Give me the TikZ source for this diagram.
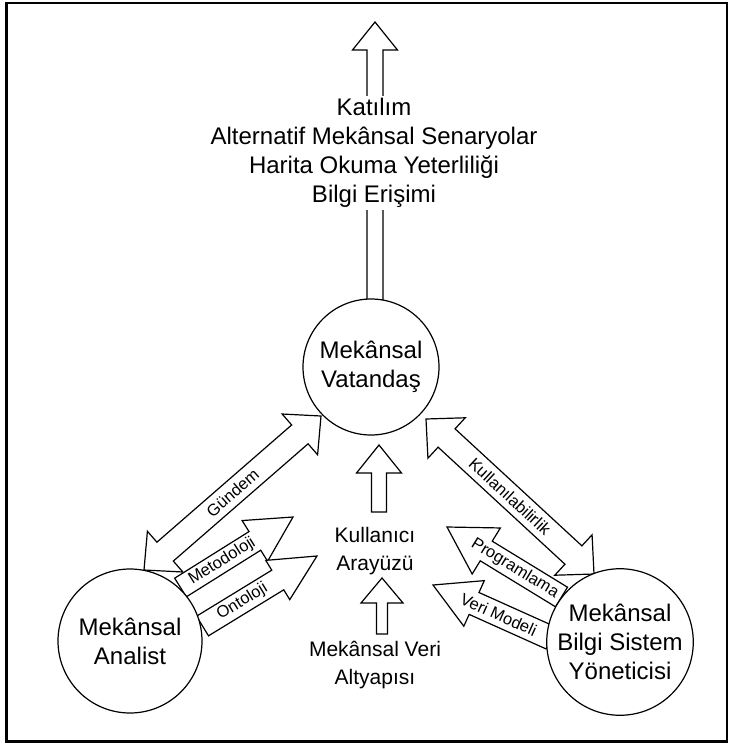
\documentclass[tikz,border=0pt]{standalone}
\usepackage{fontspec}
\setmainfont{Liberation Sans}
\usetikzlibrary{calc}

\tikzset{
  outline/.style={draw=black, line width=1.2pt, fill=white, line join=miter},
  bigtext/.style={font=\fontsize{24}{29}\selectfont, align=center, inner sep=0pt},
  midtext/.style={font=\fontsize{21}{28}\selectfont, align=center, inner sep=1pt},
  tag/.style={font=\fontsize{16.5}{18}\selectfont, inner sep=0pt},
  role/.style={circle, draw=black, line width=1.2pt, fill=white, inner sep=0pt,
               font=\fontsize{24}{29}\selectfont, align=center},
}

% single block arrow: tail, tip, shaft half width, head half width, head length
\newcommand{\blockarrow}[5]{%
  \coordinate (#1-base) at ($(#2)!#5!(#1)$);
  \draw[outline] ($(#1)!#3!90:(#2)$) -- ($(#1-base)!#3!90:(#2)$)
    -- ($(#1-base)!#4!90:(#2)$) -- (#2) -- ($(#1-base)!#4!-90:(#2)$)
    -- ($(#1-base)!#3!-90:(#2)$) -- ($(#1)!#3!-90:(#2)$) -- cycle;
}
% double block arrow: end A, end B, shaft half width, head half width, head length
\newcommand{\twinarrow}[5]{%
  \coordinate (#1-base) at ($(#1)!#5!(#2)$);
  \coordinate (#2-base) at ($(#2)!#5!(#1)$);
  \draw[outline] (#1) -- ($(#1-base)!#4!90:(#2)$) -- ($(#1-base)!#3!90:(#2)$)
    -- ($(#2-base)!#3!-90:(#1)$) -- ($(#2-base)!#4!-90:(#1)$) -- (#2)
    -- ($(#2-base)!#4!90:(#1)$) -- ($(#2-base)!#3!90:(#1)$)
    -- ($(#1-base)!#3!-90:(#2)$) -- ($(#1-base)!#4!-90:(#2)$) -- cycle;
}

\begin{document}
\begin{tikzpicture}[x=1pt, y=-1pt]
  \useasboundingbox (0,0) rectangle (729,744);
  \draw[line width=2.5pt] (6.5,3) rectangle (727,741.5);

  % end points of the block arrows
  \coordinate (upTail) at (375,300);
  \coordinate (upTip)  at (375,22);
  \coordinate (uiTail) at (379,512);
  \coordinate (uiTip)  at (379,445);
  \coordinate (sdiTail) at (382,634);
  \coordinate (sdiTip)  at (382,578);
  \coordinate (agA) at (144,570);
  \coordinate (agB) at (321,416);
  \coordinate (usA) at (426,419);
  \coordinate (usB) at (594,574);
  \coordinate (metTail) at (180.5,587.5);
  \coordinate (metTip)  at (293,517);
  \coordinate (ontTail) at (202.5,626);
  \coordinate (ontTip)  at (317,556);
  \coordinate (prgTail) at (561.5,597);
  \coordinate (prgTip)  at (447,527);
  \coordinate (vmTail) at (551,638);
  \coordinate (vmTip)  at (433,585);

  \blockarrow{upTail}{upTip}{8pt}{22.5pt}{28pt}
  \blockarrow{uiTail}{uiTip}{7.5pt}{22.5pt}{28pt}
  \blockarrow{sdiTail}{sdiTip}{5.5pt}{21pt}{25pt}
  \twinarrow{agA}{agB}{12.5pt}{27pt}{28pt}
  \twinarrow{usA}{usB}{12.5pt}{27.5pt}{28pt}
  \blockarrow{metTail}{metTip}{11pt}{24pt}{45pt}
  \blockarrow{ontTail}{ontTip}{11.5pt}{23pt}{46pt}
  \blockarrow{prgTail}{prgTip}{11.5pt}{27pt}{46pt}
  \blockarrow{vmTail}{vmTip}{12pt}{25pt}{45pt}

  % the three actors
  \node[role, minimum size=136pt] (citizen) at (371,367) {Mekânsal\\Vatandaş};
  \node[role, minimum size=144pt] (analyst) at (130,641) {Mekânsal\\Analist};
  \node[role, minimum size=144pt] (admin) at (620,642) {Mekânsal\\Bilgi Sistem\\Yöneticisi};

  % labels along the arrows
  \path (agA) -- (agB) node[tag, midway, sloped] {Gündem};
  \path (usA) -- (usB) node[tag, midway, sloped] {Kullanılabilirlik};
  \path (metTail) -- (metTail-base) node[tag, pos=0.56, sloped] {Metodoloji};
  \path (ontTail) -- (ontTail-base) node[tag, pos=0.53, sloped] {Ontoloji};
  \path (prgTail) -- (prgTail-base) node[tag, pos=0.62, sloped] {Programlama};
  \path (vmTail) -- (vmTail-base) node[tag, pos=0.68, sloped] {Veri Modeli};

  % texts
  \node[bigtext, fill=white, inner sep=2pt] (goals) at (374,153)
    {Katılım\\Alternatif Mekânsal Senaryolar\\Harita Okuma Yeterliliği\\Bilgi Erişimi};
  \node[midtext] (ui) at (375,551) {Kullanıcı\\Arayüzü};
  \node[midtext] (sdi) at (375,665) {Mekânsal Veri\\Altyapısı};
\end{tikzpicture}
\end{document}
